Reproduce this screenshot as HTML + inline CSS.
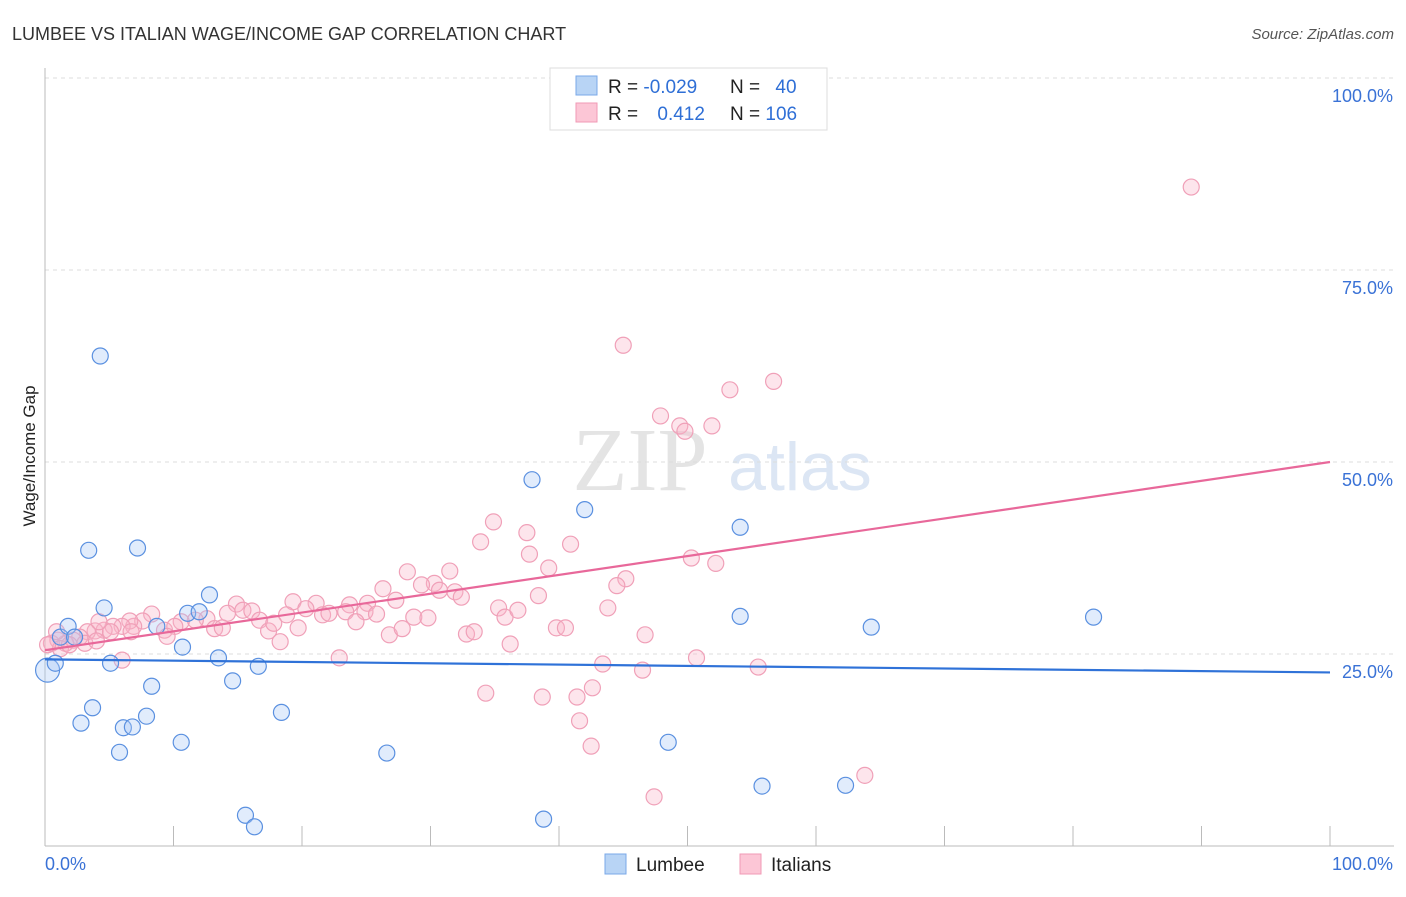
<!DOCTYPE html>
<html><head><meta charset="utf-8"><style>
body{margin:0;background:#fff;font-family:"Liberation Sans",sans-serif}
</style></head><body>
<svg id="c" width="1406" height="892" xmlns="http://www.w3.org/2000/svg" style="font-family:'Liberation Sans',sans-serif">
<text x="12" y="40" font-size="18" fill="#333">LUMBEE VS ITALIAN WAGE/INCOME GAP CORRELATION CHART</text>
<text x="1394" y="39" font-size="15" fill="#555" text-anchor="end" font-style="italic">Source: ZipAtlas.com</text>
<text x="35" y="456" font-size="17" fill="#222" text-anchor="middle" transform="rotate(-90 35 456)">Wage/Income Gap</text>
<g><text x="640" y="490" font-size="90" fill="#e4e4e4" text-anchor="middle" font-family="Liberation Serif,serif">ZIP</text><text x="800" y="490" font-size="68" fill="#dce6f4" text-anchor="middle">atlas</text></g>
<g id="grid"></g><g id="marks"></g>
<g>
<rect x="550" y="68" width="277" height="62" fill="#fff" stroke="#ddd"/>
<rect x="576" y="76" width="21" height="19" fill="#b8d4f5" stroke="#7aa8e8"/>
<rect x="576" y="103" width="21" height="19" fill="#fcc6d6" stroke="#f09ab5"/>
<text x="608" y="93" font-size="19" fill="#222">R = <tspan fill="#2f6fd6">-0.029</tspan></text>
<text x="730" y="93" font-size="19" fill="#222">N = <tspan fill="#2f6fd6" dx="10">40</tspan></text>
<text x="608" y="120" font-size="19" fill="#222">R = <tspan fill="#2f6fd6" dx="14">0.412</tspan></text>
<text x="730" y="120" font-size="19" fill="#222">N = <tspan fill="#2f6fd6">106</tspan></text>
</g>
<g>
<rect x="605" y="854" width="21" height="20" fill="#b8d4f5" stroke="#7aa8e8"/>
<text x="636" y="871" font-size="19" fill="#222">Lumbee</text>
<rect x="740" y="854" width="21" height="20" fill="#fcc6d6" stroke="#f09ab5"/>
<text x="771" y="871" font-size="19" fill="#222">Italians</text>
</g>
</svg>
<script>
const yTicks=[25,50,75,100];
const yTickLabels=["25.0%","50.0%","75.0%","100.0%"];
const lumbeeX=[0.2,0.8,1.2,1.8,2.3,4.3,3.4,4.6,5.1,3.7,2.8,6.1,6.8,5.8,7.9,8.3,7.2,8.7,10.6,10.7,11.1,12.0,12.8,13.5,14.6,16.6,18.4,15.6,16.3,26.6,37.9,42.0,38.8,48.5,54.1,54.1,55.8,62.3,64.3,81.6];
const lumbeeY=[22.9,23.8,27.2,28.6,27.2,63.8,38.5,31.0,23.8,18.0,16.0,15.4,15.5,12.2,16.9,20.8,38.8,28.6,13.5,25.9,30.3,30.5,32.7,24.5,21.5,23.4,17.4,4.0,2.5,12.1,47.7,43.8,3.5,13.5,41.5,29.9,7.8,7.9,28.5,29.8];
const italX=[89.2,45.0,56.7,53.3,47.9,49.4,49.8,51.9,34.9,37.5,33.9,37.7,40.9,39.2,50.3,52.2,45.2,44.5,28.2,31.5,30.3,29.3,26.3,30.7,31.9,32.4,38.4,27.3,25.1,23.7,21.1,19.3,14.9,15.4,16.1,20.3,21.6,22.1,23.4,24.9,25.8,18.8,16.7,14.2,12.6,11.7,10.6,8.3,7.6,6.9,6.6,6.0,5.3,4.6,3.9,3.3,2.7,2.2,1.6,1.0,0.5,1.2,1.9,3.1,4.0,5.1,6.7,9.3,10.1,9.5,13.2,13.8,17.4,17.8,19.7,18.3,24.2,26.8,27.8,28.7,29.8,32.8,33.4,35.3,35.8,36.8,36.2,39.8,40.5,43.8,46.7,22.9,6.0,43.4,46.5,50.7,55.5,34.3,38.7,41.4,42.6,41.6,42.5,47.4,63.8,0.2,0.9,4.2];
const italY=[85.8,65.2,60.5,59.4,56.0,54.7,54.0,54.7,42.2,40.8,39.6,38.0,39.3,36.2,37.5,36.8,34.8,33.9,35.7,35.8,34.2,34.0,33.5,33.3,33.1,32.4,32.6,32.0,31.6,31.4,31.6,31.8,31.5,30.7,30.6,30.9,30.1,30.3,30.5,30.5,30.2,30.1,29.4,30.3,29.6,29.4,29.2,30.2,29.3,28.6,29.3,28.6,28.6,28.1,28.0,27.9,27.2,26.8,26.4,26.8,26.4,25.7,26.2,26.4,26.7,27.9,27.9,28.1,28.6,27.3,28.3,28.4,28.0,29.0,28.4,26.6,29.2,27.5,28.3,29.8,29.7,27.6,27.9,31.0,29.8,30.7,26.3,28.4,28.4,31.0,27.5,24.5,24.2,23.7,22.9,24.5,23.3,19.9,19.4,19.4,20.6,16.3,13.0,6.4,9.2,26.2,27.9,29.2];
const lumbeeTrend=[24.3,22.6];
const italTrend=[25.5,50.0];
const X=v=>45+v*12.85, Y=v=>846-v*7.68;
const NS="http://www.w3.org/2000/svg";
function mk(t,a,p){const e=document.createElementNS(NS,t);for(const k in a)e.setAttribute(k,a[k]);p.appendChild(e);return e;}
const g=document.getElementById('grid'), m=document.getElementById('marks');
yTicks.forEach((t,i)=>{
 const l=mk('line',{x1:45,x2:1394,y1:Y(t),y2:Y(t),stroke:'#ddd','stroke-dasharray':'4 4'},g);
 
 
 const tx=mk('text',{x:1393,y:Y(t)+24,'font-size':18,fill:'#3a72d6','text-anchor':'end'},g);
 tx.textContent=yTickLabels[i];
 
 
});
const ax=mk('line',{x1:45,x2:1394,y1:846,y2:846,stroke:'#bbb'},g);


const ay=mk('line',{x1:45,x2:45,y1:68,y2:846,stroke:'#bbb'},g);


for(let i=0;i<=10;i++){const t=mk('line',{x1:X(i*10),x2:X(i*10),y1:826,y2:846,stroke:'#bbb'},g);
 
 }
const x0=mk('text',{x:45,y:870,'font-size':18,fill:'#3a72d6'},g);x0.textContent='0.0%';


const x1=mk('text',{x:1393,y:870,'font-size':18,fill:'#3a72d6','text-anchor':'end'},g);x1.textContent='100.0%';


italX.forEach((v,i)=>{const c=mk('circle',{cx:X(v),cy:Y(italY[i]),r:8,fill:'rgba(248,180,200,0.35)',stroke:'#f0a0b8','stroke-width':1.2},m);
 
 });
lumbeeX.forEach((v,i)=>{const c=mk('circle',{cx:X(v),cy:Y(lumbeeY[i]),r:i==0?12:8,fill:'rgba(170,200,245,0.35)',stroke:'#5a90e0','stroke-width':1.2},m);
 
 });
const tl=mk('line',{x1:X(0),x2:X(100),y1:Y(lumbeeTrend[0]),y2:Y(lumbeeTrend[1]),stroke:'#2f72d8','stroke-width':2.2},m);


const ti=mk('line',{x1:X(0),x2:X(100),y1:Y(italTrend[0]),y2:Y(italTrend[1]),stroke:'#e8689a','stroke-width':2.2},m);


</script>
</body></html>
